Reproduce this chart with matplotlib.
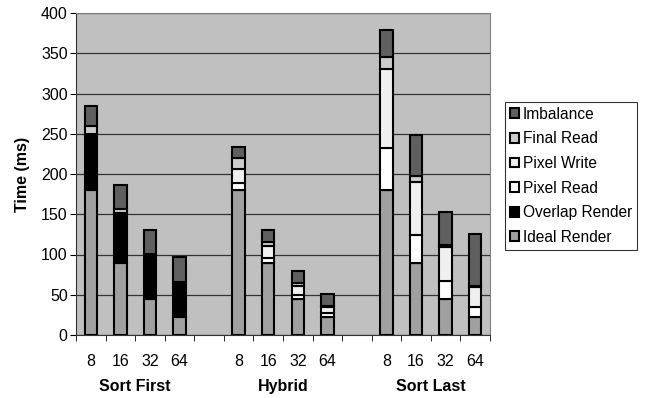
import matplotlib
matplotlib.use("Agg")
import matplotlib.pyplot as plt
import matplotlib.transforms as mtransforms
import numpy as np

plt.rcParams['font.family'] = ['Liberation Sans', 'DejaVu Sans']

groups = ["Sort First", "Hybrid", "Sort Last"]
procs = ["8", "16", "32", "64"]

# per bar values (ms), order: Sort First 8..64, Hybrid 8..64, Sort Last 8..64
ideal_render = [180, 90, 45, 22, 180, 90, 45, 22, 180, 90, 45, 22]
overlap_render = [70, 62, 55, 44, 0, 0, 0, 0, 0, 0, 0, 0]
pixel_read = [0, 0, 0, 0, 9, 6, 5, 5, 52, 34, 22, 13]
pixel_write = [0, 0, 0, 0, 17, 14, 11, 8, 98, 66, 42, 25]
final_read = [10, 5, 1, 0, 14, 6, 3, 1, 15, 7, 3, 1]
imbalance = [24, 29, 30, 31, 13, 15, 16, 15, 34, 52, 41, 64]

series = [
    ("Ideal Render", ideal_render, "#a0a0a0"),
    ("Overlap Render", overlap_render, "#000000"),
    ("Pixel Read", pixel_read, "#ffffff"),
    ("Pixel Write", pixel_write, "#f0f0f0"),
    ("Final Read", final_read, "#cccccc"),
    ("Imbalance", imbalance, "#5f5f5f"),
]

# slot positions: 4 bars per group with one empty slot between groups
xs = []
for g in range(len(groups)):
    for p in range(len(procs)):
        xs.append(g * 5 + p + 0.5)
xs = np.array(xs)

fs = 11.5
fig = plt.figure(figsize=(6.5, 3.98), dpi=100)
ax = fig.add_axes([76 / 650, 1 - 335 / 398, 414 / 650, 322 / 398])
ax.set_facecolor("#c0c0c0")

bottom = np.zeros(len(xs))
handles = []
for name, vals, col in series:
    vals = np.array(vals, dtype=float)
    b = ax.bar(xs, vals, width=0.42, bottom=bottom, color=col,
               edgecolor="black", linewidth=1.5, zorder=3, label=name)
    handles.append(b)
    bottom += vals

ax.set_xlim(0, 14)
ax.set_ylim(0, 400)
ax.set_yticks(np.arange(0, 401, 50))
ax.yaxis.grid(True, color="#333333", linewidth=0.9, zorder=0)
ax.tick_params(axis="y", labelsize=fs, length=4, pad=2, direction="out")

# tick marks at slot boundaries, labels under bars
ax.set_xticks(np.arange(0, 15), minor=True)
ax.tick_params(axis="x", which="minor", length=4, direction="out")
ax.set_xticks(xs)
ax.set_xticklabels(procs * 3, fontsize=fs)
ax.tick_params(axis="x", which="major", length=0, pad=14)

trans = mtransforms.blended_transform_factory(ax.transData, ax.transAxes)
for g, name in enumerate(groups):
    ax.text(g * 5 + 2, -0.161, name, transform=trans, ha="center",
            va="center", fontsize=fs, fontweight="bold")

ax.set_ylabel("Time (ms)", fontsize=fs, fontweight="bold")
ax.yaxis.set_label_coords(-46 / 414, 0.5)

for side in ["top", "right"]:
    ax.spines[side].set_color("#808080")
ax.spines["left"].set_color("#333333")
ax.spines["bottom"].set_color("#333333")

leg = fig.legend(handles[::-1], [s[0] for s in series][::-1],
                 loc="upper left", bbox_to_anchor=(505 / 650, 1 - 102 / 398),
                 fontsize=11.2, frameon=True, fancybox=False, edgecolor="black",
                 handlelength=0.6, handleheight=0.6, handletextpad=0.25,
                 labelspacing=0.62, borderpad=0.3, borderaxespad=0)
leg.get_frame().set_linewidth(0.8)

fig.savefig("out.png", dpi=100)
